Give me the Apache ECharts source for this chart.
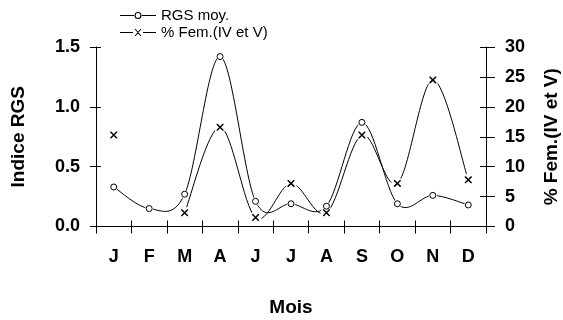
<!DOCTYPE html>
<html>
<head>
<meta charset="utf-8">
<style>
  html, body { margin: 0; padding: 0; background: #fff; }
  #chart { width: 563px; height: 320px; }
</style>
<script src="https://cdn.jsdelivr.net/npm/echarts@6/dist/echarts.min.js"></script>
</head>
<body>
<div id="chart"></div>
<script>
// Monthly values
const months = ['J', 'F', 'M', 'A', 'J', 'J', 'A', 'S', 'O', 'N', 'D'];
const rgsMoy = [0.33, 0.15, 0.27, 1.42, 0.21, 0.19, 0.17, 0.87, 0.19, 0.26, 0.18];
const femIVV = [15.3, null, 2.3, 16.6, 1.5, 7.2, 2.3, 15.3, 7.2, 24.5, 7.8];

// Axis ticks
const leftTicks = { min: 0, max: 1.5, interval: 0.5 };
const rightTicks = { min: 0, max: 30, interval: 5 };

const RGS_NAME = 'RGS moy.';
const FEM_NAME = '% Fem.(IV et V)';

const FONT = '"Liberation Sans", Arial, sans-serif';
const INK = '#000';

// Cross-shaped marker built from two filled diagonal bands
const CROSS = 'path://M0 0L1.5 0L10 8.5L10 10L8.5 10L0 1.5Z M10 0L10 1.5L1.5 10L0 10L0 8.5L8.5 0Z';
// Legend glyphs: a line broken around its marker
const RING_LEGEND = 'path://M0 3L15 3L15 4.1L0 4.1Z M21 3L36 3L36 4.1L21 4.1Z' +
  'M14.5 3.5A3.5 3.5 0 1 0 21.5 3.5A3.5 3.5 0 1 0 14.5 3.5Z' +
  'M15.6 3.5A2.4 2.4 0 1 1 20.4 3.5A2.4 2.4 0 1 1 15.6 3.5Z';
const CROSS_LEGEND = 'path://M0 3L13 3L13 4.1L0 4.1Z' +
  'M14.5 0L15.7 0L21.5 7L20.3 7Z M20.3 0L21.5 0L15.7 7L14.5 7Z' +
  'M23 3L36 3L36 4.1L23 4.1Z';

const tickLabel = { color: INK, fontFamily: FONT, fontWeight: 'bold', fontSize: 18 };
const axisTitle = { color: INK, fontFamily: FONT, fontWeight: 'bold', fontSize: 19 };

function valueAxis(range, pos, opts) {
  return Object.assign({
    type: 'value',
    position: pos,
    min: range.min,
    max: range.max,
    interval: range.interval,
    splitLine: { show: false },
    axisLine: { show: true, lineStyle: { color: INK, width: 1 } },
    axisTick: { show: true, inside: false, length: 6, lineStyle: { color: INK, width: 1 } },
    axisLabel: Object.assign({ margin: 16, formatter: v => v.toFixed(1) }, tickLabel)
  }, opts);
}

// Ticks on the inner side of an axis (no line, no labels)
function innerTicks(base, len) {
  return Object.assign({}, base, {
    name: '',
    axisLine: { show: false },
    axisLabel: { show: false },
    axisTick: { show: true, inside: true, length: len, lineStyle: { color: INK, width: 1 } }
  });
}

const yLeft = valueAxis(leftTicks, 'left', {
  name: 'Indice RGS',
  nameLocation: 'middle',
  nameRotate: 90,
  nameGap: 68,
  nameTextStyle: axisTitle
});
const yRight = valueAxis(rightTicks, 'right', {
  name: FEM_NAME,
  nameLocation: 'middle',
  nameRotate: 90,
  nameGap: 56,
  nameTextStyle: axisTitle,
  axisTick: { show: true, inside: false, length: 9, lineStyle: { color: INK, width: 1 } },
  axisLabel: Object.assign({ margin: 19, formatter: v => String(v) }, tickLabel)
});

const xMain = {
  type: 'category',
  data: months,
  position: 'bottom',
  boundaryGap: true,
  name: 'Mois',
  nameLocation: 'middle',
  nameGap: 72,
  nameTextStyle: axisTitle,
  axisLine: { show: true, lineStyle: { color: INK, width: 1 } },
  axisTick: { show: true, inside: false, length: 7, lineStyle: { color: INK, width: 1 } },
  axisLabel: Object.assign({ margin: 22, interval: 0 }, tickLabel),
  splitLine: { show: false }
};

// Smooth curve through the points (cardinal spline, tension 1/6),
// one bezier segment per point, broken where a value is missing.
function smoothSegment(values) {
  return function (params, api) {
    const i = params.dataIndex;
    const v1 = values[i], v2 = values[i + 1];
    if (v1 == null || v2 == null) return null;
    const at = k => api.coord([k, values[k]]);
    const p1 = at(i), p2 = at(i + 1);
    const p0 = (i > 0 && values[i - 1] != null) ? at(i - 1) : p1;
    const p3 = (i + 2 < values.length && values[i + 2] != null) ? at(i + 2) : p2;
    return {
      type: 'bezierCurve',
      shape: {
        x1: p1[0], y1: p1[1],
        cpx1: p1[0] + (p2[0] - p0[0]) / 6, cpy1: p1[1] + (p2[1] - p0[1]) / 6,
        cpx2: p2[0] - (p3[0] - p1[0]) / 6, cpy2: p2[1] - (p3[1] - p1[1]) / 6,
        x2: p2[0], y2: p2[1]
      },
      style: { stroke: INK, fill: null, lineWidth: 1 },
      silent: true
    };
  };
}

const pairs = values => values.map((v, i) => [i, v]);

const chart = echarts.init(document.getElementById('chart'), null, { renderer: 'canvas' });

chart.setOption({
  animation: false,
  backgroundColor: '#fff',
  textStyle: { fontFamily: FONT },
  grid: { left: 96, right: 77, top: 47, bottom: 93.5, containLabel: false, outerBoundsMode: 'none' },
  legend: {
    orient: 'vertical',
    left: 115,
    top: 3,
    itemWidth: 36,
    itemHeight: 7,
    itemGap: 2,
    selectedMode: false,
    textStyle: { color: INK, fontFamily: FONT, fontSize: 15 },
    data: [
      { name: RGS_NAME, icon: RING_LEGEND, itemStyle: { color: INK, borderWidth: 0 } },
      { name: FEM_NAME, icon: CROSS_LEGEND, itemStyle: { color: INK, borderWidth: 0 } }
    ]
  },
  xAxis: [xMain, innerTicks(xMain, 6)],
  yAxis: [yLeft, yRight, innerTicks(yLeft, 5), innerTicks(yRight, 6)],
  series: [
    {
      name: FEM_NAME,
      type: 'custom',
      yAxisIndex: 1,
      data: pairs(femIVV),
      encode: { x: 0, y: 1 },
      renderItem: smoothSegment(femIVV),
      itemStyle: { color: INK },
      z: 2
    },
    {
      name: RGS_NAME,
      type: 'custom',
      yAxisIndex: 0,
      data: pairs(rgsMoy),
      encode: { x: 0, y: 1 },
      renderItem: smoothSegment(rgsMoy),
      itemStyle: { color: INK },
      z: 3
    },
    {
      // white clearance around each cross
      name: 'clearFem',
      type: 'scatter',
      yAxisIndex: 1,
      data: pairs(femIVV),
      symbol: 'circle',
      symbolSize: 12,
      itemStyle: { color: '#fff', opacity: 1, borderWidth: 0 },
      silent: true,
      z: 4
    },
    {
      // white clearance around each circle
      name: 'clearRgs',
      type: 'scatter',
      yAxisIndex: 0,
      data: pairs(rgsMoy),
      symbol: 'circle',
      symbolSize: 8,
      itemStyle: { color: '#fff', opacity: 1, borderWidth: 0 },
      silent: true,
      z: 4
    },
    {
      name: FEM_NAME,
      type: 'scatter',
      yAxisIndex: 1,
      data: pairs(femIVV),
      symbol: CROSS,
      symbolSize: 7,
      itemStyle: { color: INK, opacity: 1, borderWidth: 0 },
      z: 5
    },
    {
      name: RGS_NAME,
      type: 'scatter',
      yAxisIndex: 0,
      data: pairs(rgsMoy),
      symbol: 'circle',
      symbolSize: 6,
      itemStyle: { color: '#fff', opacity: 1, borderColor: INK, borderWidth: 1 },
      z: 6
    }
  ]
});
</script>
</body>
</html>
